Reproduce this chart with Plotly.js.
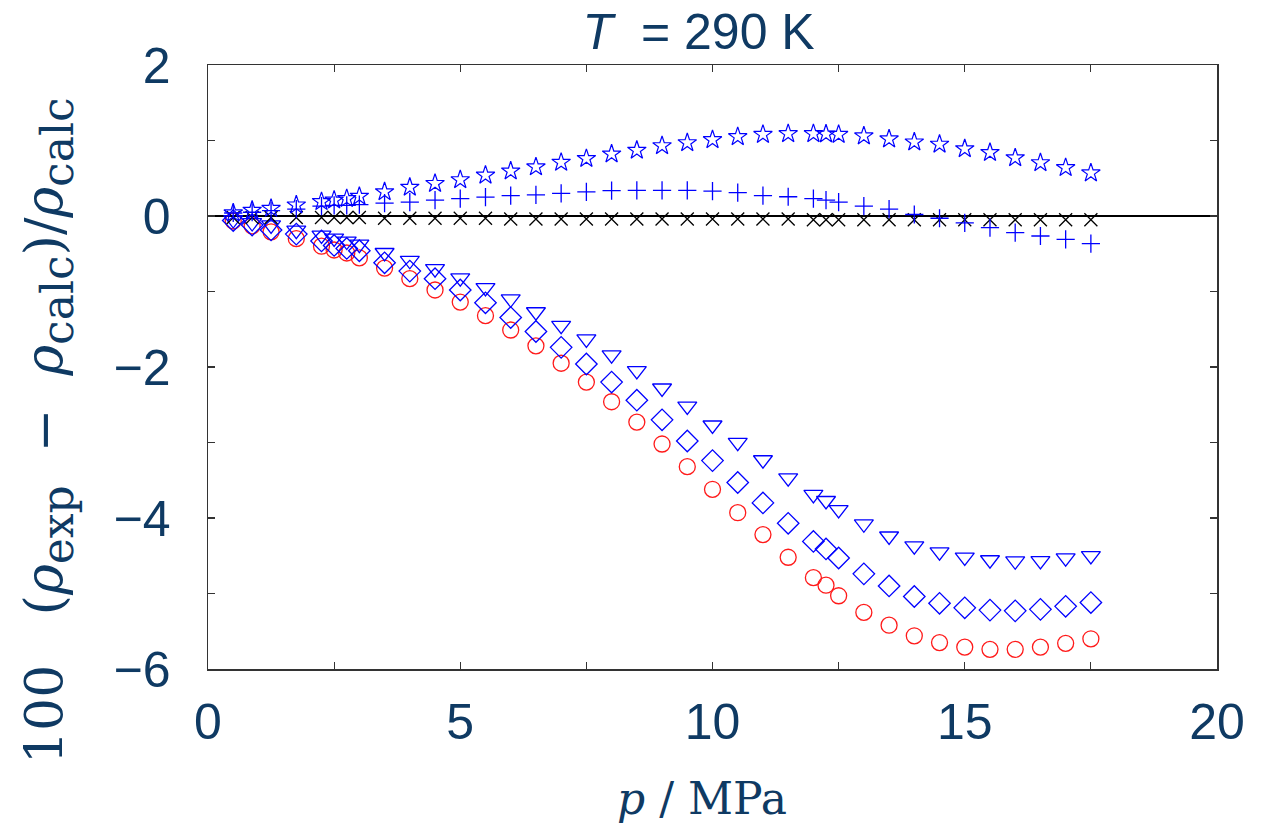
<!DOCTYPE html>
<html>
<head>
<meta charset="utf-8">
<script src="https://cdn.plot.ly/plotly-3.0.1.min.js"></script>
<style>html,body{margin:0;padding:0;background:#fff;}#chart{width:1268px;height:825px;}</style>
</head>
<body>
<div id="chart"></div>
<script>
// pressure p / MPa
const pressure = [0.5, 0.875, 1.25, 1.75, 2.25, 2.5, 2.75, 3.0, 3.5, 4.0, 4.5, 5.0, 5.5, 6.0, 6.5, 7.0, 7.5, 8.0, 8.5, 9.0, 9.5, 10.0, 10.5, 11.0, 11.5, 12.0, 12.25, 12.5, 13.0, 13.5, 14.0, 14.5, 15.0, 15.5, 16.0, 16.5, 17.0, 17.5];

const starDev = [0.04, 0.075, 0.10, 0.145, 0.19, 0.21, 0.23, 0.26, 0.32, 0.38, 0.43, 0.48, 0.54, 0.595, 0.65, 0.71, 0.76, 0.82, 0.87, 0.93, 0.97, 1.01, 1.05, 1.08, 1.09, 1.09, 1.085, 1.08, 1.06, 1.02, 0.98, 0.95, 0.89, 0.84, 0.77, 0.705, 0.64, 0.57];

const plusDev = [0.04, 0.05, 0.07, 0.09, 0.13, 0.14, 0.14, 0.15, 0.17, 0.185, 0.21, 0.23, 0.25, 0.27, 0.28, 0.30, 0.32, 0.335, 0.34, 0.34, 0.34, 0.33, 0.31, 0.27, 0.255, 0.23, 0.21, 0.185, 0.13, 0.09, 0.02, -0.03, -0.09, -0.155, -0.22, -0.265, -0.31, -0.365];

const crossDev = [-0.02, -0.02, -0.02, -0.02, -0.02, -0.02, -0.02, -0.02, -0.03, -0.03, -0.03, -0.03, -0.03, -0.04, -0.04, -0.04, -0.04, -0.04, -0.04, -0.04, -0.04, -0.04, -0.04, -0.04, -0.04, -0.05, -0.05, -0.05, -0.05, -0.05, -0.05, -0.05, -0.05, -0.05, -0.05, -0.05, -0.05, -0.05];

const triDev = [-0.05, -0.09, -0.12, -0.19, -0.255, -0.295, -0.335, -0.375, -0.485, -0.59, -0.70, -0.82, -0.95, -1.10, -1.27, -1.45, -1.63, -1.84, -2.05, -2.28, -2.52, -2.77, -3.00, -3.23, -3.47, -3.69, -3.77, -3.89, -4.08, -4.24, -4.37, -4.45, -4.52, -4.555, -4.57, -4.565, -4.53, -4.50];

const diaDev = [-0.06, -0.12, -0.185, -0.24, -0.33, -0.39, -0.43, -0.46, -0.62, -0.73, -0.83, -0.98, -1.15, -1.345, -1.53, -1.74, -1.96, -2.20, -2.44, -2.70, -2.98, -3.24, -3.53, -3.80, -4.07, -4.31, -4.41, -4.53, -4.74, -4.90, -5.04, -5.13, -5.19, -5.22, -5.23, -5.21, -5.17, -5.12];

const circDev = [-0.066, -0.13, -0.21, -0.30, -0.40, -0.45, -0.49, -0.555, -0.69, -0.83, -0.98, -1.14, -1.32, -1.51, -1.72, -1.95, -2.20, -2.46, -2.73, -3.02, -3.32, -3.62, -3.93, -4.22, -4.52, -4.79, -4.89, -5.03, -5.25, -5.42, -5.56, -5.65, -5.71, -5.74, -5.74, -5.71, -5.66, -5.60];

const xTickVals = [0, 5, 10, 15, 20];
const yTickVals = [-6, -4, -2, 0, 2];

const navy = '#0f3a63';
const blue = '#0000ff';
const red = '#ff1a1a';

function series(y, symbol, size, color, width) {
  return {
    x: pressure, y: y, type: 'scatter', mode: 'markers',
    marker: { symbol: symbol, size: size, color: color, line: { color: color, width: width } },
    showlegend: false, hoverinfo: 'skip'
  };
}

const traces = [
  series(circDev, 'circle-open', 16, red, 1.3),
  series(diaDev, 'diamond-open', 16.5, blue, 1.3),
  series(triDev, 'triangle-down-open', 16.5, blue, 1.3),
  series(crossDev, 'x-thin-open', 13, '#000000', 1.3),
  series(plusDev, 'cross-thin-open', 13, blue, 1.3),
  series(starDev, 'star-open', 14, blue, 1.2)
];

const sub = (s) => '<sub><span style="font-size:44px">' + s + '</span></sub>';
const yTitle = '100\u00a0\u00a0\u00a0(<i>ρ</i>' + sub('exp') + '\u00a0\u00a0−\u00a0\u00a0<i>ρ</i>' + sub('calc') + ')/<i>ρ</i>' + sub('calc');

const layout = {
  width: 1268, height: 825,
  margin: { l: 208, r: 51, t: 65, b: 156 },
  paper_bgcolor: '#ffffff', plot_bgcolor: '#ffffff',
  title: {
    text: '<i>T</i>\u00a0 = 290 K',
    font: { family: 'Liberation Sans, Arial, sans-serif', size: 50, color: navy },
    x: 0.551, xref: 'container', xanchor: 'center',
    y: 0.962, yref: 'container', yanchor: 'middle'
  },
  xaxis: {
    range: [0, 20], tickmode: 'array', tickvals: xTickVals,
    ticks: 'inside', ticklen: 7, tickwidth: 1.2, tickcolor: '#333',
    minor: { dtick: 2.5, ticks: 'inside', ticklen: 7, tickwidth: 1.2, tickcolor: '#333', showgrid: false },
    showline: true, linecolor: '#333', linewidth: 1.5, mirror: 'allticks',
    showgrid: false, zeroline: false,
    tickfont: { family: 'Liberation Sans, Arial, sans-serif', size: 50, color: navy },
    ticklabelstandoff: 8
  },
  yaxis: {
    range: [-6, 2], tickmode: 'array', tickvals: yTickVals,
    ticks: 'inside', ticklen: 7, tickwidth: 1.2, tickcolor: '#333',
    minor: { dtick: 1, ticks: 'inside', ticklen: 7, tickwidth: 1.2, tickcolor: '#333', showgrid: false },
    showline: true, linecolor: '#333', linewidth: 1.5, mirror: 'allticks',
    showgrid: false, zeroline: true, zerolinecolor: '#000', zerolinewidth: 1.5,
    tickfont: { family: 'Liberation Sans, Arial, sans-serif', size: 50, color: navy },
    ticklabelstandoff: 26
  },
  annotations: [
    {
      text: '<i>p</i> / MPa', showarrow: false,
      xref: 'paper', yref: 'paper', x: 0.49, y: -0.215, xanchor: 'center', yanchor: 'middle',
      font: { family: 'DejaVu Serif, serif', size: 44, color: navy }
    },
    {
      text: yTitle, showarrow: false,
      textangle: -90,
      xref: 'paper', yref: 'paper', x: -0.158, y: 0.395, xanchor: 'center', yanchor: 'middle',
      font: { family: 'DejaVu Serif, serif', size: 52, color: navy }
    }
  ]
};

Plotly.newPlot('chart', traces, layout, { staticPlot: true, displayModeBar: false });
</script>
</body>
</html>
